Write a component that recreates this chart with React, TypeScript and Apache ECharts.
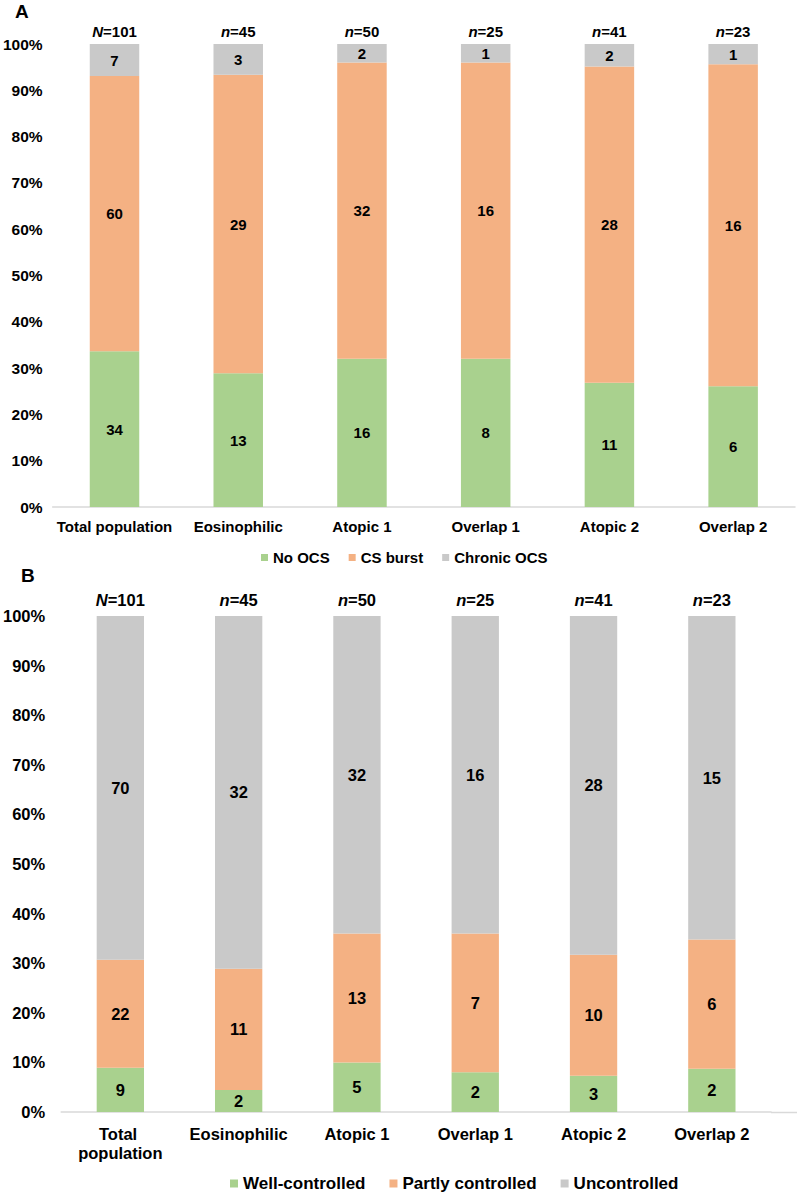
import React, { useEffect, useRef } from "react";
import * as echarts from "echarts";

const categories = ["Total population", "Eosinophilic", "Atopic 1", "Overlap 1", "Atopic 2", "Overlap 2"];
const totals = [101, 45, 50, 25, 41, 23];
const totalPrefix = ["N", "n", "n", "n", "n", "n"];

// Panel A: OCS use (counts)
const noOcs = [34, 13, 16, 8, 11, 6];
const csBurst = [60, 29, 32, 16, 28, 16];
const chronicOcs = [7, 3, 2, 1, 2, 1];

// Panel B: asthma control (counts)
const wellControlled = [9, 2, 5, 2, 3, 2];
const partlyControlled = [22, 11, 13, 7, 10, 6];
const uncontrolled = [70, 32, 32, 16, 28, 15];

const GREEN = "#A9D18E";
const ORANGE = "#F4B183";
const GREY = "#C9C9C9";
const FONT = "'Liberation Sans', Arial, sans-serif";

const pct = (counts: number[]) => counts.map((c, i) => (c / totals[i]) * 100);

function barSeries(name: string, counts: number[], color: string, idx: number, fontSize: number) {
  return {
    type: "bar",
    name,
    stack: "s" + idx,
    xAxisIndex: idx,
    yAxisIndex: idx,
    barWidth: "40%",
    data: pct(counts),
    itemStyle: { color },
    label: {
      show: true,
      position: "inside",
      formatter: (p: any) => String(counts[p.dataIndex]),
      color: "#000",
      fontWeight: "bold",
      fontSize,
      fontFamily: FONT,
    },
  };
}

// Invisible anchors at the top of each 100% bar carrying the group size labels
function totalSeries(idx: number, fontSize: number, distance: number, stacks: number[][]) {
  return {
    type: "scatter",
    xAxisIndex: idx,
    yAxisIndex: idx,
    symbol: "circle",
    symbolSize: 1,
    itemStyle: { color: "rgba(0,0,0,0)" },
    silent: true,
    z: 10,
    data: totals.map((_, i) => stacks.reduce((s, arr) => s + pct(arr)[i], 0)),
    label: {
      show: true,
      position: "top",
      distance,
      color: "#000",
      opacity: 1,
      formatter: (p: any) => `{i|${totalPrefix[p.dataIndex]}}{n|=${totals[p.dataIndex]}}`,
      rich: {
        i: { fontStyle: "italic", fontWeight: "bold", fontSize, color: "#000", fontFamily: FONT },
        n: { fontWeight: "bold", fontSize, color: "#000", fontFamily: FONT },
      },
    },
  };
}

export default function App() {
  const ref = useRef<HTMLDivElement>(null);
  useEffect(() => {
    if (!ref.current) return;
    const chart = echarts.init(ref.current, null, { renderer: "svg" });
    const yAxisBase = (idx: number, fontSize: number, margin: number) => ({
      type: "value",
      gridIndex: idx,
      min: 0,
      max: 100,
      interval: 10,
      axisLine: { show: false },
      axisTick: { show: false },
      splitLine: { show: false },
      axisLabel: {
        formatter: "{value}%",
        color: "#000",
        fontWeight: "bold",
        fontSize,
        fontFamily: FONT,
        margin,
      },
    });
    const xAxisBase = (idx: number, fontSize: number, margin: number, width?: number) => ({
      type: "category",
      gridIndex: idx,
      data: categories,
      axisLine: { show: true, lineStyle: { color: "#D9D9D9", width: 1.5 } },
      axisTick: { show: false },
      axisLabel: {
        color: "#000",
        fontWeight: "bold",
        fontSize,
        fontFamily: FONT,
        margin,
        interval: 0,
        lineHeight: 19,
        ...(width ? { width, overflow: "break" } : {}),
      },
    });
    chart.setOption({
      animation: false,
      backgroundColor: "#fff",
      grid: [
        { left: 52, top: 44, width: 743, height: 463 },
        { left: 60, top: 616, width: 711, height: 496 },
      ],
      xAxis: [xAxisBase(0, 15, 10), xAxisBase(1, 16.5, 12, 100)],
      yAxis: [yAxisBase(0, 15.5, 10), yAxisBase(1, 16.5, 16)],
      legend: [
        {
          data: ["No OCS", "CS burst", "Chronic OCS"],
          left: 256,
          top: 545,
          icon: "rect",
          itemWidth: 7,
          itemHeight: 7,
          itemGap: 19,
          textStyle: { color: "#000", fontWeight: "bold", fontSize: 15, fontFamily: FONT },
        },
        {
          data: ["Well-controlled", "Partly controlled", "Uncontrolled"],
          left: 225,
          top: 1170,
          icon: "rect",
          itemWidth: 8,
          itemHeight: 8,
          itemGap: 24,
          textStyle: { color: "#000", fontWeight: "bold", fontSize: 17, fontFamily: FONT },
        },
      ],
      graphic: [
        {
          type: "text",
          left: 15,
          top: 2,
          style: { text: "A", fill: "#000", font: `bold 19px ${FONT}` },
        },
        {
          type: "text",
          left: 21,
          top: 566,
          style: { text: "B", fill: "#000", font: `bold 19px ${FONT}` },
        },
        {
          type: "line",
          shape: { x1: 771, y1: 1112.5, x2: 797, y2: 1112.5 },
          style: { stroke: "#D9D9D9", lineWidth: 1.5 },
        },
      ],
      series: [
        barSeries("No OCS", noOcs, GREEN, 0, 15),
        barSeries("CS burst", csBurst, ORANGE, 0, 15),
        barSeries("Chronic OCS", chronicOcs, GREY, 0, 15),
        totalSeries(0, 15, 5, [noOcs, csBurst, chronicOcs]),
        barSeries("Well-controlled", wellControlled, GREEN, 1, 16.5),
        barSeries("Partly controlled", partlyControlled, ORANGE, 1, 16.5),
        barSeries("Uncontrolled", uncontrolled, GREY, 1, 16.5),
        totalSeries(1, 16.5, 7, [wellControlled, partlyControlled, uncontrolled]),
      ],
    });
    return () => chart.dispose();
  }, []);
  return (
    <div
      ref={ref}
      style={{ position: "absolute", left: 0, top: 0, width: 799, height: 1195 }}
    />
  );
}
